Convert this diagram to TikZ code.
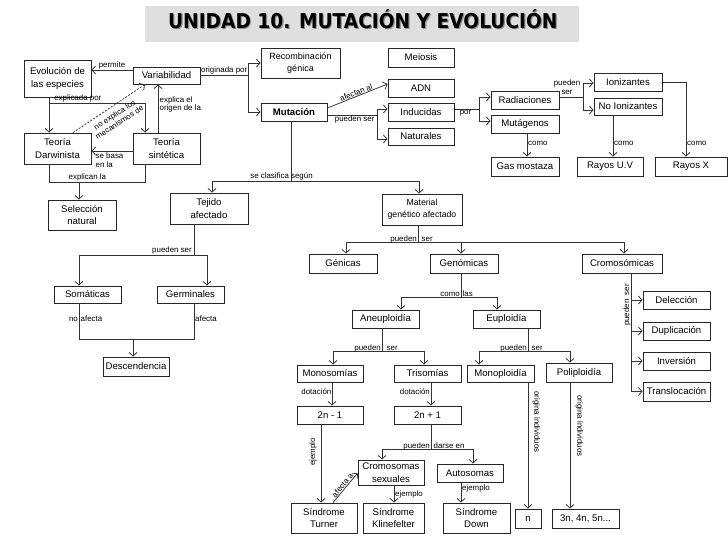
\documentclass[tikz,border=0pt]{standalone}
\usepackage{fontspec}
\setmainfont{Liberation Sans}
\newfontfamily\titlefont{DejaVu Sans}
\usetikzlibrary{arrows.meta,calc}
\begin{document}
\begin{tikzpicture}[x=1pt,y=-1pt,
  bx/.style={draw=black!85, line width=0.75pt, inner sep=1pt, align=center, font=\fontsize{9.6}{12.5}\selectfont},
  sz/.style 2 args={minimum width=#1pt, minimum height=#2pt},
  ln/.style={draw=black!80, line width=0.75pt},
  arr/.style={ln, -{Straight Barb[length=3.8pt,width=8pt]}},
  lbl/.style={font=\fontsize{7.9}{8.8}\selectfont, inner sep=0.5pt, align=center}]
\useasboundingbox[fill=white] (0,0) rectangle (728,546);
% title
\node[fill=gray!25, minimum width=434pt, minimum height=36pt, inner sep=0] (title) at (362,24) {};
\node[anchor=base, text=black!45, inner sep=0] (tshadow) at (364,29.6) {\scalebox{1}[1.1]{\titlefont\bfseries\fontsize{18.6}{20}\selectfont UNIDAD 10. MUTACIÓN Y EVOLUCIÓN}};
\node[anchor=base, text=black, inner sep=0] (ttext) at (362.8,28.3) {\scalebox{1}[1.1]{\titlefont\bfseries\fontsize{18.6}{20}\selectfont UNIDAD 10. MUTACIÓN Y EVOLUCIÓN}};
% nodes
\node[bx, sz={67}{37}] (evo) at (57.5,78.5) {Evolución de\\las especies};
\node[bx, sz={67}{17}] (var) at (166.5,75.5) {Variabilidad};
\node[bx, sz={67}{31}] (dar) at (57.5,148.5) {Teoría\\Darwinista};
\node[bx, sz={67}{31}] (sin) at (166.5,148.5) {Teoría\\sintética};
\node[bx, sz={68}{30}] (sel) at (82,215) {Selección\\natural};
\node[bx, sz={78}{31}] (tej) at (209,208.5) {Tejido\\afectado};
\node[bx, sz={67}{17}] (som) at (87.5,294.5) {Somáticas};
\node[bx, sz={67}{17}] (ger) at (190.5,294.5) {Germinales};
\node[bx, sz={66}{19}] (des) at (136,366.5) {Descendencia};
\node[bx, sz={79}{30}, font=\fontsize{9}{12}\selectfont] (rec) at (300.5,63) {Recombinación\\génica};
\node[bx, sz={66}{19}] (mei) at (421,57.5) {Meiosis};
\node[bx, sz={66}{18}] (adn) at (421,88) {ADN};
\node[bx, sz={66}{18}] (ind) at (421,112) {Inducidas};
\node[bx, sz={66}{17}] (nat) at (421,136.5) {Naturales};
\node[bx, sz={66}{18}] (mut) at (294,112) {\textbf{Mutación}};
\node[bx, sz={68}{18}] (rad) at (525,100) {Radiaciones};
\node[bx, sz={68}{18}] (mtg) at (525,124) {Mutágenos};
\node[bx, sz={68}{19}] (gas) at (525,166.5) {Gas mostaza};
\node[bx, sz={68}{18}] (ion) at (628,82) {Ionizantes};
\node[bx, sz={68}{17}] (noi) at (628,106.5) {No Ionizantes};
\node[bx, sz={66}{19}] (ruv) at (610,166.5) {Rayos U.V};
\node[bx, sz={72}{19}] (rx) at (691,166.5) {Rayos X};
\node[bx, sz={80}{31}, font=\fontsize{8.7}{12}\selectfont] (mat) at (422,209.5) {Material\\genético afectado};
\node[bx, sz={68}{19}] (gen) at (343,263.5) {Génicas};
\node[bx, sz={68}{19}] (gnm) at (464,263.5) {Genómicas};
\node[bx, sz={80}{19}] (cro) at (622,263.5) {Cromosómicas};
\node[bx, sz={67}{18}] (ane) at (385.5,319) {Aneuploidía};
\node[bx, sz={67}{18}] (eup) at (506.5,319) {Euploidía};
\node[bx, sz={67}{18}] (del) at (676.5,300) {Delección};
\node[bx, sz={67}{18}] (dup) at (676.5,331) {Duplicación};
\node[bx, sz={67}{18}] (inv) at (676.5,361) {Inversión};
\node[bx, sz={67}{19}] (tra) at (676.5,391.5) {Translocación};
\node[bx, sz={66}{17}] (mon) at (330,373.5) {Monosomías};
\node[bx, sz={67}{17}] (tri) at (427.5,373.5) {Trisomías};
\node[bx, sz={67}{17}] (mnp) at (500.5,373.5) {Monoploidía};
\node[bx, sz={66}{19}] (pol) at (579,372.5) {Poliploidía};
\node[bx, sz={66}{18}] (m1) at (330,415) {2n - 1};
\node[bx, sz={67}{18}] (p1) at (427.5,415) {2n + 1};
\node[bx, sz={66}{25}] (cs) at (391,472.5) {Cromosomas\\sexuales};
\node[bx, sz={66}{18}] (aut) at (470,473) {Autosomas};
\node[bx, sz={66}{30}] (tur) at (324,518) {Síndrome\\Turner};
\node[bx, sz={61}{30}] (kli) at (393.5,518) {Síndrome\\Klinefelter};
\node[bx, sz={67}{30}] (dow) at (476.5,518) {Síndrome\\Down};
\node[bx, sz={26}{19}] (n) at (528,518.5) {n};
\node[bx, sz={67}{19}] (n3) at (585.5,518.5) {3n, 4n, 5n...};
% connectors
\coordinate (c1) at (112,70);
\draw[arr] (var.west |- c1) -- node[lbl, above]{permite} (evo.east |- c1);
\coordinate (c2) at (248,75.5);
\draw[ln] (var.east) -- node[lbl, above]{originada por} (c2);
\draw[arr] (c2) |- (rec.west);
\draw[arr] (c2) |- (mut.west);
\coordinate (c3a) at (49,103); \coordinate (c3b) at (145,103);
\draw[arr] (evo.south -| c3a) -- (dar.north -| c3a);
\draw[arr] (c3a) -- node[lbl, above, pos=0.3]{explicada por} (c3b) -- (sin.north -| c3b);
\coordinate (c4) at (158,110);
\draw[arr] (sin.north -| c4) -- (var.south -| c4);
\node[lbl, right, align=left] (l4) at (159,104.5) {explica el\\origen de la};
\coordinate (c5a) at (73,0); \coordinate (c5b) at (145,0);
\draw[arr, dash pattern=on 2pt off 1.5pt] (dar.north -| c5a) -- (var.south -| c5b);
\node[lbl, rotate=33] (l5) at (117,118.5) {no explica los\\mecanismos de};
\coordinate (c6) at (0,151);
\draw[arr] (sin.west |- c6) -- (dar.east |- c6);
\node[lbl, below right, align=left] (l6) at (95,152) {se basa\\en la};
\coordinate (c7a) at (49,182); \coordinate (c7b) at (145,182); \coordinate (c7m) at (79,182);
\draw[ln] (dar.south -| c7a) -- (c7a) -- node[lbl, above, pos=0.4]{explican la} (c7b) -- (sin.south -| c7b);
\draw[arr] (c7m) -- (sel.north -| c7m);
\coordinate (c8) at (291,181); \coordinate (c8a) at (212,181); \coordinate (c8b) at (419,181);
\draw[ln] (mut.south -| c8) -- (c8);
\draw[ln] (c8a) -- (c8b);
\draw[arr] (c8a) -- (tej.north -| c8a);
\draw[arr] (c8b) -- (mat.north -| c8b);
\node[lbl, above] (l8) at (281.5,181) {se clasifica según};
\coordinate (c9a) at (0,108); \coordinate (c9b) at (0,84);
\draw[arr] (mut.east |- c9a) -- node[lbl, sloped, above]{afectan al} (adn.west |- c9b);
\coordinate (c10) at (377,115); \coordinate (c10a) at (377,109); \coordinate (c10b) at (377,139);
\draw[ln] (mut.east |- c10) -- node[lbl, below, pos=0.55]{pueden ser} (c10);
\draw[ln] (c10a) -- (c10b);
\draw[arr] (c10a) -- (ind.west |- c10a);
\draw[arr] (c10b) -- (nat.west |- c10b);
\coordinate (c11) at (479,109); \coordinate (c11a) at (479,97); \coordinate (c11b) at (479,121);
\draw[ln] (ind.east |- c11) -- node[lbl, below, pos=0.45]{por} (c11);
\draw[ln] (c11a) -- (c11b);
\draw[arr] (c11a) -- (rad.west |- c11a);
\draw[arr] (c11b) -- (mtg.west |- c11b);
\coordinate (c12) at (583,97); \coordinate (c12a) at (583,83); \coordinate (c12b) at (583,110);
\draw[ln] (rad.east |- c12) -- (c12);
\node[lbl] (l12) at (567,87) {pueden\\ser};
\draw[ln] (c12a) -- (c12b);
\draw[arr] (c12a) -- (ion.west |- c12a);
\draw[arr] (c12b) -- (noi.west |- c12b);
\coordinate (c13) at (527,0);
\draw[arr] (mtg.south -| c13) -- (gas.north -| c13);
\node[lbl, right] (l13) at (527.5,143) {como};
\coordinate (c14) at (613,0);
\draw[arr] (noi.south -| c14) -- (ruv.north -| c14);
\node[lbl, right] (l14) at (613.5,143) {como};
\coordinate (c15) at (686,82);
\draw[arr] (ion.east) -- (c15) -- (rx.north -| c15);
\node[lbl, right] (l15) at (686.5,143) {como};
\coordinate (c16) at (194,255); \coordinate (c16a) at (79,255); \coordinate (c16b) at (207,255);
\draw[ln] (tej.south -| c16) -- (c16);
\draw[ln] (c16a) -- (c16b);
\draw[arr] (c16a) -- (som.north -| c16a);
\draw[arr] (c16b) -- (ger.north -| c16b);
\node[lbl, above] (l16) at (172,255) {pueden ser};
\coordinate (c17a) at (79,339); \coordinate (c17b) at (194,339); \coordinate (c17m) at (133,339);
\draw[ln] (som.south -| c17a) -- (c17a) -- (c17b) -- (ger.south -| c17b);
\draw[arr] (c17m) -- (des.north -| c17m);
\node[lbl, left] (l17a) at (78.5,319) {no};
\node[lbl, right] (l17b) at (80,319) {afecta};
\node[lbl, right] (l17c) at (194.5,319) {afecta};
\coordinate (c18) at (418,242); \coordinate (c18a) at (346,242); \coordinate (c18b) at (624,242); \coordinate (c18m) at (461,242);
\draw[ln] (mat.south -| c18) -- (c18);
\draw[ln] (c18a) -- (c18b);
\draw[arr] (c18a) -- (gen.north -| c18a);
\draw[arr] (c18m) -- (gnm.north -| c18m);
\draw[arr] (c18b) -- (cro.north -| c18b);
\node[lbl, left] (l18a) at (417.5,239) {pueden};
\node[lbl, right] (l18b) at (421,239) {ser};
\coordinate (c19) at (461,297); \coordinate (c19a) at (401,297); \coordinate (c19b) at (497,297);
\draw[ln] (gnm.south -| c19) -- (c19);
\draw[ln] (c19a) -- (c19b);
\draw[arr] (c19a) -- (ane.north -| c19a);
\draw[arr] (c19b) -- (eup.north -| c19b);
\node[lbl, left] (l19a) at (460.5,294) {como};
\node[lbl, right] (l19b) at (462,294) {las};
\coordinate (c20t) at (631,0); \coordinate (c20b) at (631,391.5);
\draw[ln] (cro.south -| c20t) -- (c20b);
\draw[arr] (del.west -| c20t) -- (del.west);
\draw[arr] (dup.west -| c20t) -- (dup.west);
\draw[arr] (inv.west -| c20t) -- (inv.west);
\draw[arr] (tra.west -| c20t) -- (tra.west);
\node[lbl, rotate=90] (l20) at (627,305) {pueden\ \ ser};
\coordinate (c21) at (382,351); \coordinate (c21a) at (333,351); \coordinate (c21b) at (424,351);
\draw[ln] (ane.south -| c21) -- (c21);
\draw[ln] (c21a) -- (c21b);
\draw[arr] (c21a) -- (mon.north -| c21a);
\draw[arr] (c21b) -- (tri.north -| c21b);
\node[lbl, left] (l21a) at (381.5,348) {pueden};
\node[lbl, right] (l21b) at (386,348) {ser};
\coordinate (c22) at (528,351); \coordinate (c22a) at (479,351); \coordinate (c22b) at (570,351);
\draw[ln] (eup.south -| c22) -- (c22);
\draw[ln] (c22a) -- (c22b);
\draw[arr] (c22a) -- (mnp.north -| c22a);
\draw[arr] (c22b) -- (pol.north -| c22b);
\node[lbl, left] (l22a) at (527.5,348) {pueden};
\node[lbl, right] (l22b) at (531,348) {ser};
\coordinate (c23) at (332,0);
\draw[arr] (mon.south -| c23) -- (m1.north -| c23);
\node[lbl, left] (l23) at (332,392) {dotación};
\coordinate (c24) at (431,0);
\draw[arr] (tri.south -| c24) -- (p1.north -| c24);
\node[lbl, left] (l24) at (430.5,392) {dotación};
\coordinate (c25) at (321,0);
\draw[arr] (m1.south -| c25) -- (tur.north -| c25);
\node[lbl, rotate=90] (l25) at (313,452) {ejemplo};
\coordinate (c26) at (431,449); \coordinate (c26a) at (382,449); \coordinate (c26b) at (473,449);
\draw[ln] (p1.south -| c26) -- (c26);
\draw[ln] (c26a) -- (c26b);
\draw[arr] (c26a) -- (cs.north -| c26a);
\draw[arr] (c26b) -- (aut.north -| c26b);
\node[lbl, left] (l26a) at (430.5,446) {pueden};
\node[lbl, right] (l26b) at (433,446) {darse en};
\coordinate (c27a) at (333,0); \coordinate (c27b) at (0,473);
\draw[arr] (tur.north -| c27a) -- node[lbl, sloped, above]{afecta a} (cs.west |- c27b);
\coordinate (c28) at (394,0);
\draw[arr] (cs.south -| c28) -- (kli.north -| c28);
\node[lbl, right] (l28) at (394.5,494) {ejemplo};
\coordinate (c29) at (461,0);
\draw[arr] (aut.south -| c29) -- (dow.north -| c29);
\node[lbl, right] (l29) at (461.5,488) {ejemplo};
\coordinate (c30) at (528,0);
\draw[arr] (mnp.south -| c30) -- (n.north -| c30);
\node[lbl, rotate=-90] (l30) at (536.5,422) {origina individuos};
\coordinate (c31) at (570,0);
\draw[arr] (pol.south -| c31) -- (n3.north -| c31);
\node[lbl, rotate=-90] (l31) at (579.5,426) {origina individuos};
\end{tikzpicture}
\end{document}
